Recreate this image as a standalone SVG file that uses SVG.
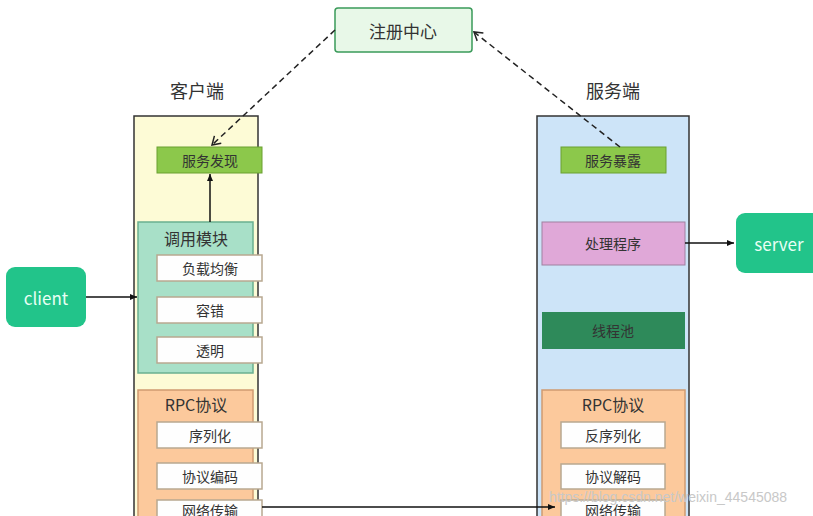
<svg xmlns="http://www.w3.org/2000/svg" width="813" height="516" viewBox="0 0 813 516">
<defs>
<style>
text{font-family:"Noto Sans CJK SC","Noto Sans",sans-serif;text-anchor:middle;dominant-baseline:central}
.w{fill:#fefefe;stroke:#b8a890;stroke-width:1.5}
.t{font-size:14px;fill:#333}
.h{font-size:17px;fill:#333}
.c{stroke:#111;stroke-width:1.5;fill:none}
.d{stroke:#222;stroke-width:1.5;fill:none;stroke-dasharray:6 4}
</style>
<marker id="a" markerWidth="8" markerHeight="8" refX="7" refY="4" orient="auto" markerUnits="userSpaceOnUse"><path d="M0,1 L7,4 L0,7z" fill="#111"/></marker>
<marker id="o" markerWidth="12" markerHeight="12" refX="10" refY="6" orient="auto" markerUnits="userSpaceOnUse"><path d="M2,1 L10,6 L2,11" fill="none" stroke="#222" stroke-width="1.5"/></marker>
</defs>
<rect width="813" height="516" fill="#fff"/>
<g id="registry"><rect x="335" y="8" width="137" height="44" rx="3" fill="#e8f8e8" stroke="#3a9a5a" stroke-width="1.5"/><text x="403" y="30" class="h">注册中心</text></g>
<text x="197" y="90" class="h" style="font-size:18px">客户端</text>
<text x="613" y="90" class="h" style="font-size:18px">服务端</text>
<g id="client-side">
<rect x="134" y="116" width="124" height="410" fill="#fdfbd6" stroke="#333" stroke-width="1.5"/>
<g id="discover"><rect x="157" y="147" width="105" height="26" fill="#8cc84b" stroke="#6aa030"/><text x="210" y="160" class="t">服务发现</text></g>
<g id="invoke"><rect x="138" y="222" width="115" height="151" fill="#a8e0c8" stroke="#6ab090" stroke-width="1.5"/><text x="196" y="238" class="h" style="font-size:16px">调用模块</text>
<rect class="w" x="157" y="255" width="105" height="26"/><text x="210" y="268" class="t">负载均衡</text>
<rect class="w" x="157" y="297" width="105" height="26"/><text x="210" y="310" class="t">容错</text>
<rect class="w" x="157" y="337" width="105" height="26"/><text x="210" y="350" class="t">透明</text></g>
<g id="crpc"><rect x="138" y="390" width="115" height="136" fill="#fcc99c" stroke="#d09a70" stroke-width="1.5"/><text x="196" y="404" class="h" style="font-size:16px">RPC协议</text>
<rect class="w" x="157" y="422" width="105" height="26"/><text x="210" y="435" class="t">序列化</text>
<rect class="w" x="157" y="463" width="105" height="26"/><text x="210" y="476" class="t">协议编码</text>
<rect class="w" x="157" y="500" width="105" height="26"/><text x="210" y="510" class="t">网络传输</text></g>
</g>
<g id="server-side">
<rect x="537" y="116" width="152" height="410" fill="#cde4f8" stroke="#333" stroke-width="1.5"/>
<g id="expose"><rect x="561" y="147" width="105" height="26" fill="#8cc84b" stroke="#6aa030"/><text x="613" y="160" class="t">服务暴露</text></g>
<g id="handler"><rect x="542" y="222" width="143" height="43" fill="#e0a8d8" stroke="#a080a0"/><text x="613" y="243" class="t">处理程序</text></g>
<g id="pool"><rect x="542" y="312" width="143" height="37" fill="#2e8a5a"/><text x="613" y="330" class="t">线程池</text></g>
<g id="srpc"><rect x="542" y="390" width="143" height="136" fill="#fcc99c" stroke="#d09a70" stroke-width="1.5"/><text x="613" y="404" class="h" style="font-size:16px">RPC协议</text>
<rect class="w" x="561" y="422" width="104" height="26"/><text x="613" y="435" class="t">反序列化</text>
<rect class="w" x="561" y="464" width="104" height="25"/><text x="613" y="476" class="t">协议解码</text>
<rect class="w" x="561" y="500" width="104" height="26"/><text x="613" y="510" class="t">网络传输</text></g>
</g>
<g id="client"><rect x="6" y="267" width="80" height="60" rx="9" fill="#22c48a"/><text x="46" y="297" style="font-size:17px;fill:#e8fff4">client</text></g>
<g id="server"><rect x="736" y="213" width="90" height="60" rx="9" fill="#22c48a"/><text x="779" y="243" style="font-size:17px;fill:#e8fff4">server</text></g>
<g id="connectors">
<path class="d" d="M335,30 L212,145" marker-end="url(#o)"/>
<path class="d" d="M620,147 L474,32" marker-end="url(#o)"/>
<path class="c" d="M86,297 L137,297" marker-end="url(#a)"/>
<path class="c" d="M210,222 L210,174" marker-end="url(#a)"/>
<path class="c" d="M685,243 L734,243" marker-end="url(#a)"/>
<path class="c" d="M262,507 L555,507" marker-end="url(#a)"/>
</g>
<text x="668" y="497" style="font-size:14px;fill:#c8c8c8;font-family:'Liberation Sans',sans-serif">https://blog.csdn.net/weixin_44545088</text>
</svg>
